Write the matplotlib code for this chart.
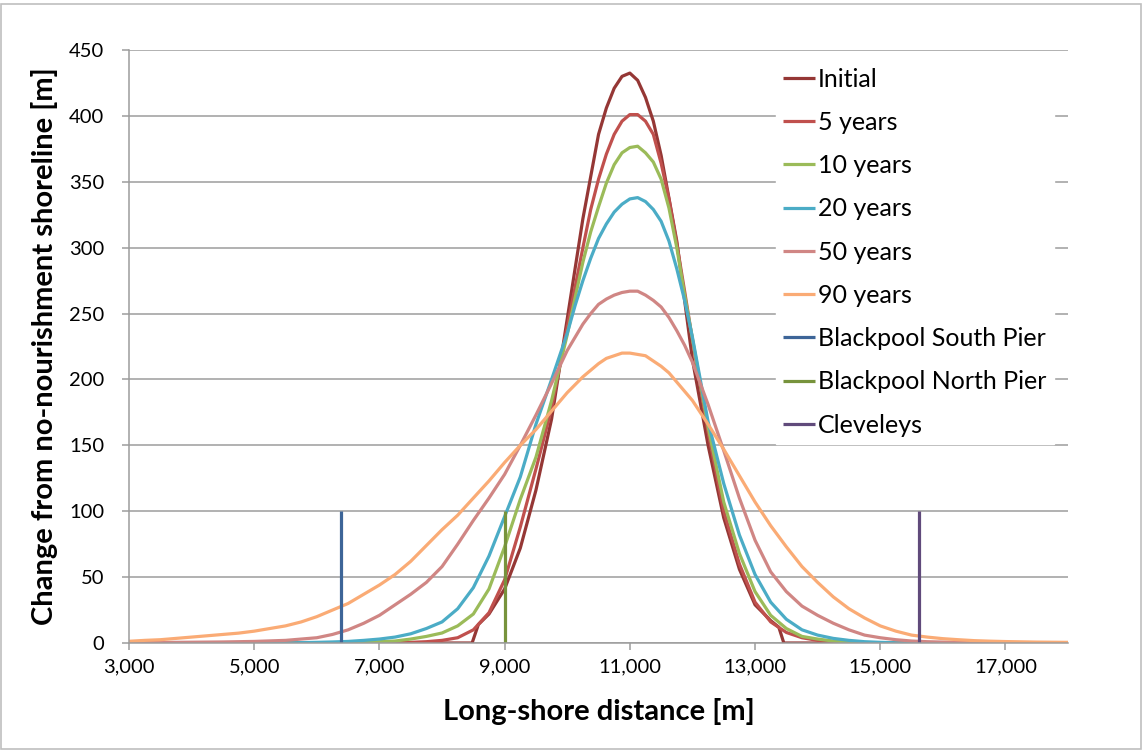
import numpy as np
import matplotlib.pyplot as plt
from matplotlib.patches import Rectangle
from matplotlib.ticker import FuncFormatter, MultipleLocator

plt.rcParams['font.family'] = ['Lato', 'DejaVu Sans']

# long-shore distance (m): 250 m steps on the flanks, 125 m around the crest
x = np.concatenate([np.arange(3000, 10000, 250),      # 28 pts
                    np.arange(10000, 12001, 125),     # 17 pts
                    np.arange(12250, 18001, 250)])    # 24 pts

# initial profile has its own sampling (sharp toe at both ends)
x_init = [3000, 8480, 8580, 8750, 9000, 9250, 9500, 9750, 10000, 10250, 10500,
          10625, 10750, 10875, 11000, 11125, 11250, 11375, 11500, 11750, 12000,
          12250, 12500, 12750, 13000, 13250, 13380, 13460, 18000]
y_init = [0, 0, 14, 22, 41, 72, 116, 170, 246, 322, 386,
          406, 421, 430, 432.5, 427, 414, 396, 370, 305, 215,
          150, 95, 56, 29, 17, 12, 0, 0]

y_5 = [0, 0, 0, 0, 0, 0, 0, 0, 0, 0,
       0, 0, 0, 0, 0, 0, 0, 0.2, 0.5, 1,
       2, 4, 10, 23, 48, 88, 132, 178,
       240, 270, 300, 329, 352, 371, 386, 396, 401,
       401, 396, 386, 364, 337, 303, 267, 230,
       160, 100, 60, 31, 16, 8, 4, 2, 1, 0.5,
       0, 0, 0, 0, 0, 0, 0, 0, 0, 0,
       0, 0, 0, 0]

y_10 = [0, 0, 0, 0, 0, 0, 0, 0, 0, 0,
        0, 0, 0, 0, 0, 0.5, 1, 1.5, 3, 5,
        7.6, 13, 22, 41, 73, 109, 141, 184,
        234, 262, 289, 312, 331, 349, 363, 372, 376,
        377, 372, 365, 352, 330, 300, 264, 231,
        164, 107, 68, 39, 21, 11, 5, 3, 1.5, 0.7,
        0.3, 0, 0, 0, 0, 0, 0, 0, 0, 0,
        0, 0, 0, 0]

y_20 = [0, 0, 0, 0, 0, 0, 0, 0, 0, 0,
        0, 0.3, 0.5, 0.8, 1.2, 2, 3, 4.5, 7, 11,
        16, 26, 42, 66, 96, 126, 166, 200,
        235, 256, 275, 292, 307, 318, 327, 333, 337,
        338, 335, 329, 320, 305, 284, 260, 232,
        168, 121, 82, 52, 31, 18, 10, 6, 3.5, 2,
        1, 0.5, 0.2, 0, 0, 0, 0, 0, 0, 0,
        0, 0, 0, 0]

y_50 = [0.3, 0.3, 0.4, 0.5, 0.6, 0.7, 0.8, 1, 1.2, 1.6,
        2, 3, 4, 6.5, 10, 15, 21, 29, 37, 46,
        58, 75, 93, 110, 128, 150, 173, 197,
        222, 232, 242, 250, 257, 261, 264, 266, 267,
        267, 264, 260, 255, 247, 237, 226, 213,
        181, 146, 110, 78, 54, 39, 28, 21, 15, 10,
        6, 4, 2.5, 1.5, 1, 0.7, 0.5, 0.4, 0.3, 0.3,
        0.2, 0.2, 0.2, 0.2]

y_90 = [1.3, 2, 2.5, 3.5, 4.5, 5.5, 6.5, 7.5, 9, 11,
        13, 16, 20, 25, 30, 37, 44, 52, 62, 74,
        86, 97, 110, 123, 137, 150, 162, 176,
        190, 196, 202, 207, 212, 216, 218, 220, 220,
        219, 218, 214, 210, 205, 198, 191, 184,
        166, 147, 127, 107, 89, 73, 58, 46, 35, 26,
        19, 13, 9, 6, 4.5, 3.3, 2.5, 1.8, 1.4, 1.1,
        0.9, 0.7, 0.6, 0.5]

# pier / landmark locations (m), drawn as 0-100 markers
piers = ['Blackpool South Pier', 'Blackpool North Pier', 'Cleveleys']
pier_x = [6380, 9000, 15625]
pier_h = [0, 100]

series = [('Initial', x_init, y_init, '#953735'),
          ('5 years', x, y_5, '#C0504D'),
          ('10 years', x, y_10, '#9BBB59'),
          ('20 years', x, y_20, '#4BACC6'),
          ('50 years', x, y_50, '#D08684'),
          ('90 years', x, y_90, '#FAAB75')]
pier_colors = ['#3D6598', '#77933C', '#604A7B']

fig = plt.figure(figsize=(11.44, 7.51), dpi=100)
ax = fig.add_axes([0.1128, 0.1438, 0.8208, 0.7896])

for name, xs, ys, c in series:
    ax.plot(xs, ys, color=c, lw=2.3, label=name, solid_capstyle='butt')
for name, px, c in zip(piers, pier_x, pier_colors):
    ax.plot([px, px], pier_h, color=c, lw=2.3, label=name, solid_capstyle='butt')

ax.set_xlim(3000, 18000)
ax.set_ylim(0, 450)
ax.set_xticks(range(3000, 17001, 2000))
ax.yaxis.set_major_locator(MultipleLocator(50))
ax.xaxis.set_major_formatter(FuncFormatter(lambda v, p: f'{int(v):,}'))

ax.grid(axis='y', color='#9C9C9C', lw=1.1)
ax.set_axisbelow(True)
for s in ['top', 'right']:
    ax.spines[s].set_visible(False)
for s in ['left', 'bottom']:
    ax.spines[s].set_color('#9C9C9C')
    ax.spines[s].set_linewidth(1.1)
ax.tick_params(colors='#9C9C9C', labelcolor='black', labelsize=14.5, length=5,
               width=1.1)
ax.tick_params(axis='x', pad=6)
ax.tick_params(axis='y', pad=13)

ax.set_xlabel('Long-shore distance [m]', fontsize=21, fontweight='bold', labelpad=16)
ax.set_ylabel('Change from no-nourishment shoreline [m]', fontsize=21,
              fontweight='bold', labelpad=8)

leg = ax.legend(loc='upper left', bbox_to_anchor=(0.6885, 0.983), fontsize=18,
                frameon=True, fancybox=False, edgecolor='white', facecolor='white',
                framealpha=1, handlelength=1.28, handletextpad=0.12,
                labelspacing=0.81, borderpad=0.3, borderaxespad=0)
for h in leg.get_lines():
    h.set_linewidth(2.3)

# chart border
fig.patches.append(Rectangle((0.001, 0.003), 0.996, 0.992, transform=fig.transFigure,
                             fill=False, edgecolor='#BFBFBF', lw=1.2))

fig.savefig('out.png', dpi=100)
